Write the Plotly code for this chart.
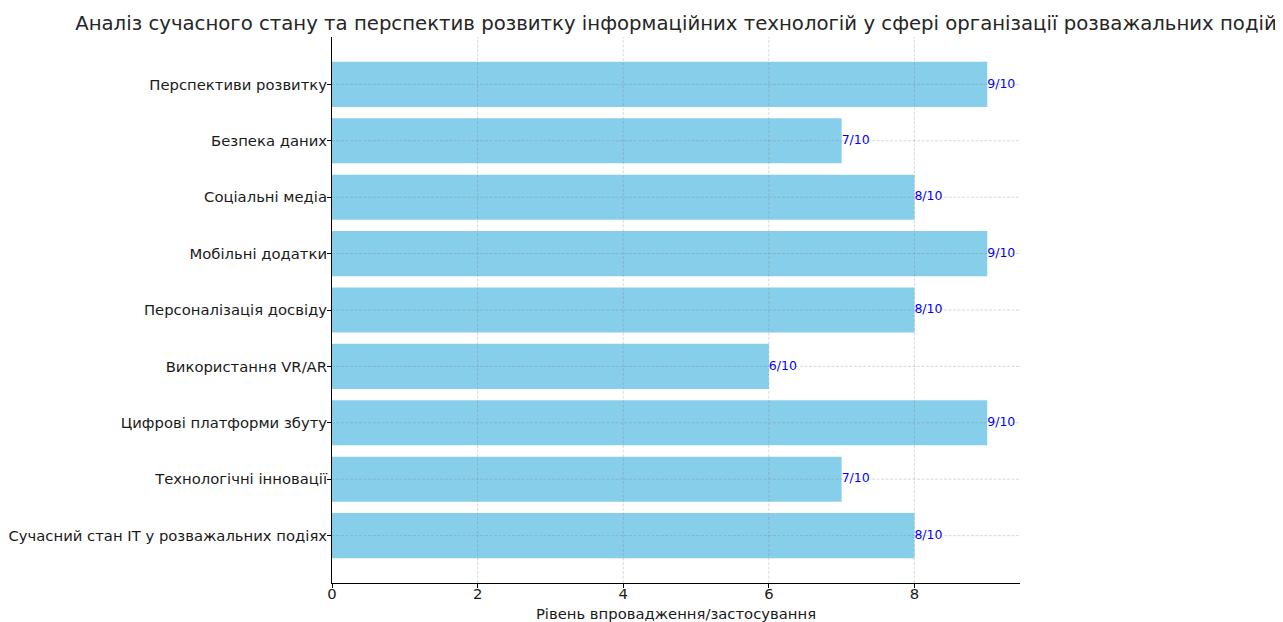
import plotly.graph_objects as go

categories = [
    "Сучасний стан IT у розважальних подіях",
    "Технологічні інновації",
    "Цифрові платформи збуту",
    "Використання VR/AR",
    "Персоналізація досвіду",
    "Мобільні додатки",
    "Соціальні медіа",
    "Безпека даних",
    "Перспективи розвитку",
]
scores = [8, 7, 9, 6, 8, 9, 8, 7, 9]
labels = [f"{v}/10" for v in scores]
x_ticks = [0, 2, 4, 6, 8]

title = "Аналіз сучасного стану та перспектив розвитку інформаційних технологій у сфері організації розважальних подій"
font = "DejaVu Sans"
grid_col = "rgba(120,120,120,0.35)"

fig = go.Figure()
fig.add_trace(go.Bar(
    x=scores, y=categories, orientation="h", width=0.8,
    marker=dict(color="#87CEEB", line=dict(width=0)),
    hoverinfo="skip", showlegend=False,
))
fig.add_trace(go.Scatter(
    x=scores, y=categories, mode="text", text=labels,
    textposition="middle right",
    textfont=dict(family=font, size=12.5, color="#0000FF"),
    showlegend=False, hoverinfo="skip", cliponaxis=False,
))

# grid drawn above the bars (as in the reference)
for t in x_ticks[1:]:
    fig.add_shape(type="line", xref="x", yref="paper", x0=t, x1=t, y0=0, y1=1,
                  line=dict(color=grid_col, width=0.8, dash="3px,1.5px"), layer="above")
for c in categories:
    fig.add_shape(type="line", xref="paper", yref="y", x0=0, x1=1, y0=c, y1=c,
                  line=dict(color=grid_col, width=0.8, dash="3px,1.5px"), layer="above")

# page body has an 8px default margin: compensate
W, H = 1275, 614
fig.update_layout(
    width=W, height=H,
    margin=dict(l=324, r=263, t=29, b=39, autoexpand=False),
    paper_bgcolor="white", plot_bgcolor="white",
    font=dict(family=font, size=14.8, color="#1a1a1a"),
    title=dict(text=title, x=0.5, xref="paper", y=1 - 15 / H, yref="container",
               xanchor="center", yanchor="middle",
               font=dict(family=font, size=19.7, color="#262626")),
    xaxis=dict(
        range=[0, 9.45], tickvals=x_ticks, ticktext=[str(t) for t in x_ticks],
        showline=True, linecolor="black", linewidth=1,
        ticks="outside", ticklen=4, tickcolor="black",
        showgrid=False, zeroline=False, automargin=False,
        title=dict(text="Рівень впровадження/застосування", font=dict(size=14.8), standoff=8),
        tickfont=dict(size=14.8), ticklabelstandoff=-7,
    ),
    yaxis=dict(
        range=[-0.84, 8.84], type="category",
        showline=True, linecolor="black", linewidth=1,
        ticks="outside", ticklen=4, tickcolor="black",
        showgrid=False, zeroline=False, automargin=False,
        tickfont=dict(size=14.8), ticklabelstandoff=-3,
    ),
)

fig.write_html("out.html")
